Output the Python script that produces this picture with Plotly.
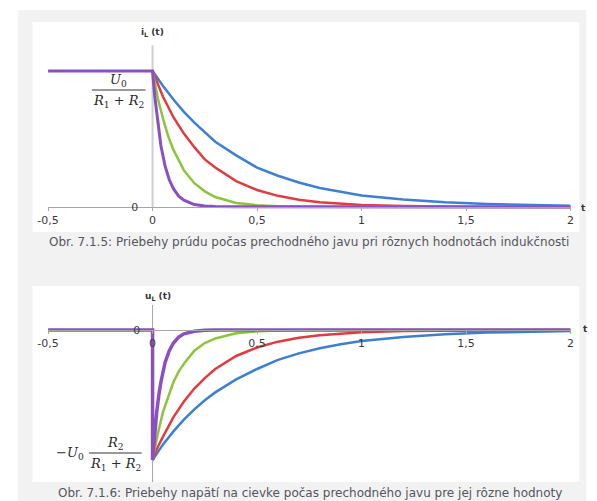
import plotly.graph_objects as go

W, H = 597, 501

# ---------------- data ----------------
tick_vals = [-0.5, 0, 0.5, 1, 1.5, 2]
tick_text = ["-0,5", "0", "0,5", "1", "1,5", "2"]

# top chart: i_L(t), normalised to U0/(R1+R2)
t_i_blue = [0, 0.05, 0.1, 0.15, 0.2, 0.25, 0.3, 0.4, 0.5, 0.6, 0.7, 0.8, 0.9, 1.0, 1.2, 1.4, 1.6, 1.8, 2.0]
i_blue = [1, 0.89, 0.79, 0.70, 0.62, 0.55, 0.48, 0.38, 0.29, 0.23, 0.18, 0.14, 0.11, 0.085, 0.055, 0.035, 0.022, 0.014, 0.009]

t_i_red = [0, 0.025, 0.05, 0.1, 0.15, 0.2, 0.25, 0.3, 0.4, 0.5, 0.6, 0.7, 0.8, 1.0, 1.2, 1.5, 2.0]
i_red = [1, 0.9, 0.81, 0.66, 0.54, 0.44, 0.35, 0.29, 0.19, 0.125, 0.082, 0.054, 0.035, 0.015, 0.007, 0.002, 0]

t_i_green = [0, 0.0125, 0.025, 0.05, 0.075, 0.1, 0.125, 0.15, 0.2, 0.25, 0.3, 0.4, 0.5, 0.6, 0.8, 2.0]
i_green = [1, 0.9, 0.8, 0.65, 0.52, 0.42, 0.34, 0.27, 0.175, 0.115, 0.073, 0.03, 0.013, 0.005, 0.001, 0]

t_i_purple = [-0.5, 0, 0.01, 0.02, 0.03, 0.04, 0.06, 0.08, 0.1, 0.125, 0.15, 0.2, 0.25, 0.3, 0.4, 2.0]
i_purple = [1, 1, 0.82, 0.68, 0.55, 0.45, 0.3, 0.2, 0.135, 0.08, 0.05, 0.018, 0.007, 0.003, 0.001, 0]

# bottom chart: u_L(t), normalised to U0*R2/(R1+R2)
t_u_blue = [0, 0.05, 0.1, 0.15, 0.2, 0.25, 0.3, 0.4, 0.5, 0.6, 0.7, 0.8, 0.9, 1.0, 1.2, 1.4, 1.6, 1.8, 2.0]
u_blue = [-1, -0.88, -0.78, -0.69, -0.61, -0.54, -0.48, -0.38, -0.3, -0.23, -0.18, -0.14, -0.11, -0.085, -0.055, -0.033, -0.02, -0.012, -0.008]

t_u_red = [0, 0.025, 0.05, 0.1, 0.15, 0.2, 0.25, 0.3, 0.4, 0.5, 0.6, 0.7, 0.8, 1.0, 1.2, 1.5, 2.0]
u_red = [-1, -0.9, -0.82, -0.67, -0.55, -0.45, -0.37, -0.3, -0.2, -0.135, -0.09, -0.06, -0.04, -0.018, -0.008, -0.003, 0]

t_u_green = [0, 0.0125, 0.025, 0.05, 0.075, 0.1, 0.125, 0.15, 0.2, 0.25, 0.3, 0.4, 0.5, 0.6, 0.8, 2.0]
u_green = [-1, -0.89, -0.8, -0.63, -0.51, -0.4, -0.32, -0.26, -0.16, -0.1, -0.065, -0.026, -0.01, -0.004, -0.001, 0]

t_u_purple = [-0.5, 0, 0, 0.005, 0.01, 0.02, 0.03, 0.04, 0.06, 0.08, 0.1, 0.125, 0.15, 0.2, 0.25, 0.3, 2.0]
u_purple = [0, 0, -1, -0.89, -0.79, -0.63, -0.5, -0.4, -0.25, -0.16, -0.1, -0.055, -0.03, -0.01, -0.003, -0.001, 0]

caption_top = "Obr. 7.1.5: Priebehy prúdu počas prechodného javu pri rôznych hodnotách indukčnosti"
caption_bottom = "Obr. 7.1.6: Priebehy napätí na cievke počas prechodného javu pre jej rôzne hodnoty"

BLUE, RED, GREEN, PURPLE = "#3d7fd0", "#e03c40", "#8cc43f", "#8a4fc0"


def px(x):
    return x / W


def py(y):
    return 1 - y / H


fig = go.Figure()

series_top = [(t_i_blue, i_blue, BLUE, 2.5), (t_i_red, i_red, RED, 2.5),
              (t_i_green, i_green, GREEN, 2.5), (t_i_purple, i_purple, PURPLE, 3)]
for tx, vy, c, w in series_top:
    fig.add_trace(go.Scatter(x=tx, y=vy, mode="lines", line=dict(color=c, width=w),
                             xaxis="x", yaxis="y", showlegend=False, hoverinfo="skip"))

series_bot = [(t_u_blue, u_blue, BLUE, 2.5), (t_u_red, u_red, RED, 2.5),
              (t_u_green, u_green, GREEN, 2.5), (t_u_purple, u_purple, PURPLE, 3.5)]
for tx, vy, c, w in series_bot:
    fig.add_trace(go.Scatter(x=tx, y=vy, mode="lines", line=dict(color=c, width=w),
                             xaxis="x2", yaxis="y2", showlegend=False, hoverinfo="skip"))

xdom = [px(38), px(574)]
ax_font = dict(family="DejaVu Sans, Noto Sans, sans-serif", size=11, color="#3a3a3a")

# top panel axes: y=0 at py 207, y=1 at py 71
top_lo, top_hi = -0.06, 1.19
top_dom = [py(207 + 0.06 * 136), py(207 - 1.19 * 136)]
# bottom panel axes: y=0 at py 330, y=-1 at py 460
bot_lo, bot_hi = -1.169, 0.192
bot_dom = [py(482), py(305)]

fig.update_layout(
    width=W, height=H,
    margin=dict(l=0, r=0, t=0, b=0),
    paper_bgcolor="white", plot_bgcolor="rgba(0,0,0,0)",
    xaxis=dict(domain=xdom, range=[-0.5, 2], anchor="free", position=py(207),
               tickvals=tick_vals, ticktext=tick_text, showgrid=False, zeroline=False,
               showline=True, linecolor="#a6a6a6", linewidth=1,
               ticks="outside", ticklen=3, tickcolor="#a6a6a6", tickfont=ax_font),
    yaxis=dict(domain=top_dom, range=[top_lo, top_hi], anchor="free", position=px(145),
               tickvals=[0], ticktext=["0"], showgrid=False, zeroline=False, showline=False,
               ticks="", ticklabelstandoff=14, tickfont=ax_font),
    xaxis2=dict(domain=xdom, range=[-0.5, 2], anchor="free", position=py(330),
                tickvals=tick_vals, ticktext=tick_text, showgrid=False, zeroline=False,
                showline=True, linecolor="#a6a6a6", linewidth=1,
                ticks="outside", ticklen=3, tickcolor="#a6a6a6", tickfont=ax_font),
    yaxis2=dict(domain=bot_dom, range=[bot_lo, bot_hi], anchor="free", position=px(145),
                tickvals=[0], ticktext=["0"], showgrid=False, zeroline=False, showline=False,
                ticks="", ticklabelstandoff=12, tickfont=ax_font),
)

shapes = [
    # gray page panel
    dict(type="rect", xref="paper", yref="paper", x0=px(7), x1=px(590), y0=0, y1=py(10),
         fillcolor="#f2f2f2", line=dict(width=0), layer="below"),
    # white chart panels
    dict(type="rect", xref="paper", yref="paper", x0=px(22), x1=px(583), y0=py(232), y1=py(22),
         fillcolor="white", line=dict(width=0), layer="below"),
    dict(type="rect", xref="paper", yref="paper", x0=px(22), x1=px(583), y0=py(482), y1=py(286),
         fillcolor="white", line=dict(width=0), layer="below"),
    # vertical axes at t = 0
    dict(type="line", xref="x", yref="y", x0=0, x1=0, y0=0, y1=top_hi,
         line=dict(color="#cfcfcf", width=2), layer="below"),
    dict(type="line", xref="x2", yref="y2", x0=0, x1=0, y0=bot_lo, y1=bot_hi,
         line=dict(color="#a6a6a6", width=1), layer="below"),
    # fraction bars
    dict(type="line", xref="paper", yref="paper", x0=px(83), x1=px(138), y0=py(90), y1=py(90),
         line=dict(color="#333333", width=1)),
    dict(type="line", xref="paper", yref="paper", x0=px(80), x1=px(134), y0=py(453), y1=py(453),
         line=dict(color="#333333", width=1)),
]
fig.update_layout(shapes=shapes)

math_font = dict(family="DejaVu Serif, Liberation Serif, serif", size=13, color="#2a2a2a")
lab_font = dict(family="DejaVu Sans, Noto Sans, sans-serif", size=9, color="#333333")
cap_font = dict(family="DejaVu Sans, Noto Sans, sans-serif", size=12, color="#555560")


def note(x, y, text, font, xanchor="center"):
    fig.add_annotation(xref="paper", yref="paper", x=px(x), y=py(y), text=text,
                       showarrow=False, font=font, xanchor=xanchor, yanchor="middle")


note(110, 80, "<i>U</i><sub>0</sub>", math_font)
note(110, 101, "<i>R</i><sub>1</sub> + <i>R</i><sub>2</sub>", math_font)
note(61, 453, "−<i>U</i><sub>0</sub>", math_font)
note(107, 443, "<i>R</i><sub>2</sub>", math_font)
note(107, 464, "<i>R</i><sub>1</sub> + <i>R</i><sub>2</sub>", math_font)

note(145, 33, "<b>i<sub>L</sub> (t)</b>", lab_font)
note(151, 296, "<b>u<sub>L</sub> (t)</b>", lab_font)
note(587, 208, "<b>t</b>", lab_font)
note(589, 329, "<b>t</b>", lab_font)

note(306, 242, caption_top, cap_font)
note(307, 493, caption_bottom, cap_font)

fig.write_html("out.html", config={"displayModeBar": False},
               post_script="document.body.style.margin='0';document.body.style.overflow='hidden';")
